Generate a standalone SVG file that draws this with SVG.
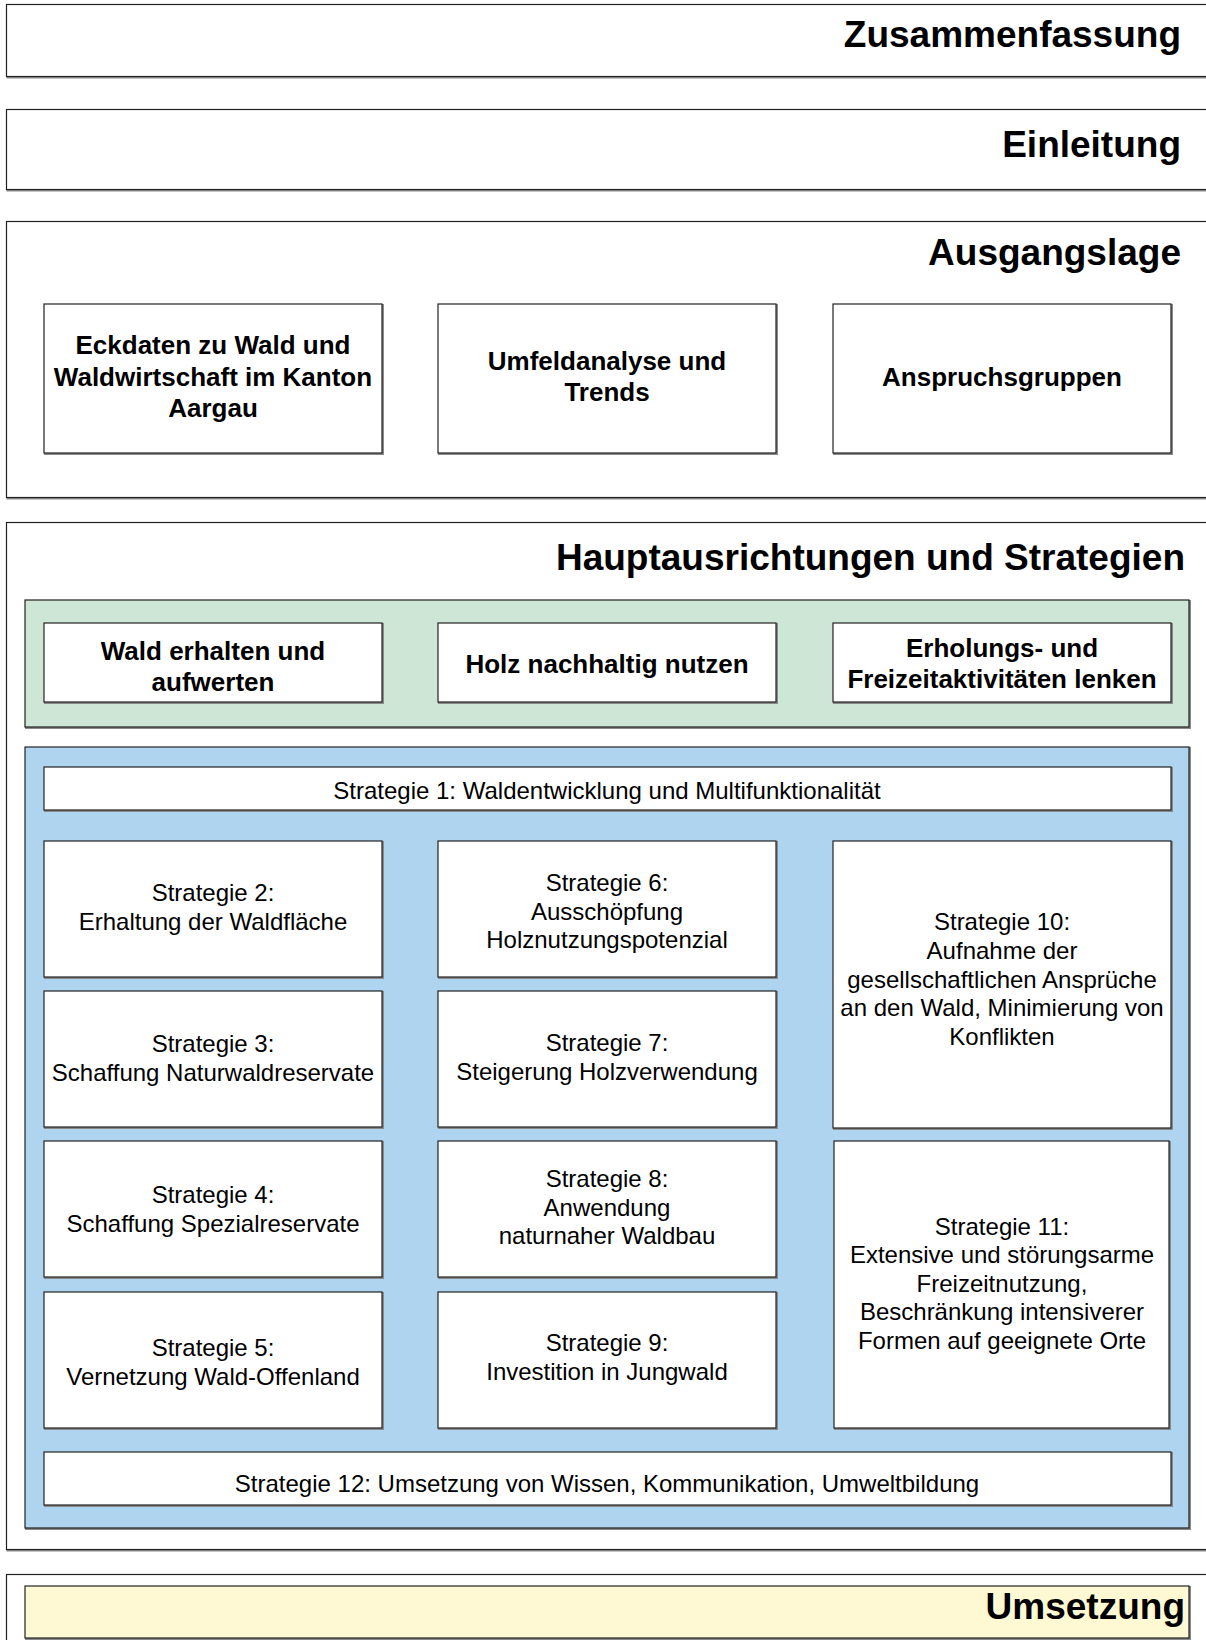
<svg xmlns="http://www.w3.org/2000/svg" width="1206" height="1640" viewBox="0 0 1206 1640">
<defs>
<style>
.sh{fill:none;stroke:#8a8a8a;stroke-width:2}
.bx{stroke:#222;stroke-width:1.2}
.w{fill:#fff}
.g{fill:#cde6d5}
.b{fill:#aed4f0}
.y{fill:#fff9d3}
.title{font-family:"Liberation Sans",Arial,sans-serif;font-weight:bold;font-size:37px;fill:#000;text-anchor:end}
.bt{font-family:"Liberation Sans",Arial,sans-serif;font-weight:bold;font-size:26px;fill:#000;text-anchor:middle}
.t{font-family:"Liberation Sans",Arial,sans-serif;font-size:24px;fill:#000;text-anchor:middle}
</style>
</defs>
<rect width="1206" height="1640" fill="#fff"/>

<g id="zusammenfassung">
<rect class="sh" x="7.5" y="5.5" width="1210" height="72"/>
<rect class="bx w" x="6.5" y="4.5" width="1210" height="72"/>
<text class="title" x="1181" y="47">Zusammenfassung</text>
</g>

<g id="einleitung">
<rect class="sh" x="7.5" y="110.5" width="1210" height="80"/>
<rect class="bx w" x="6.5" y="109.5" width="1210" height="80"/>
<text class="title" x="1181" y="157">Einleitung</text>
</g>

<g id="ausgangslage">
<rect class="sh" x="7.5" y="222.5" width="1210" height="276"/>
<rect class="bx w" x="6.5" y="221.5" width="1210" height="276"/>
<text class="title" x="1181" y="265">Ausgangslage</text>
</g>

<g id="eckdaten">
<rect class="sh" x="45" y="305" width="338" height="149"/>
<rect class="bx w" x="44" y="304" width="338" height="149"/>
<text class="bt" x="213" y="354">Eckdaten zu Wald und</text>
<text class="bt" x="213" y="386">Waldwirtschaft im Kanton</text>
<text class="bt" x="213" y="417">Aargau</text>
</g>
<g id="umfeldanalyse">
<rect class="sh" x="439" y="305" width="338" height="149"/>
<rect class="bx w" x="438" y="304" width="338" height="149"/>
<text class="bt" x="607" y="370">Umfeldanalyse und</text>
<text class="bt" x="607" y="401">Trends</text>
</g>
<g id="anspruchsgruppen">
<rect class="sh" x="834" y="305" width="338" height="149"/>
<rect class="bx w" x="833" y="304" width="338" height="149"/>
<text class="bt" x="1002" y="386">Anspruchsgruppen</text>
</g>

<g id="hauptausrichtungen">
<rect class="sh" x="7.5" y="523.5" width="1210" height="1027"/>
<rect class="bx w" x="6.5" y="522.5" width="1210" height="1027"/>
<text class="title" x="1185" y="570">Hauptausrichtungen und Strategien</text>
</g>

<g id="hauptausrichtungen-gruen">
<rect class="sh" x="26" y="601" width="1164" height="127"/>
<rect class="bx g" x="25" y="600" width="1164" height="127"/>
</g>
<g id="wald-erhalten">
<rect class="sh" x="45" y="624" width="338" height="79"/>
<rect class="bx w" x="44" y="623" width="338" height="79"/>
<text class="bt" x="213" y="660">Wald erhalten und</text>
<text class="bt" x="213" y="691">aufwerten</text>
</g>
<g id="holz-nutzen">
<rect class="sh" x="439" y="624" width="338" height="79"/>
<rect class="bx w" x="438" y="623" width="338" height="79"/>
<text class="bt" x="607" y="673">Holz nachhaltig nutzen</text>
</g>
<g id="erholung">
<rect class="sh" x="834" y="624" width="338" height="79"/>
<rect class="bx w" x="833" y="623" width="338" height="79"/>
<text class="bt" x="1002" y="657">Erholungs- und</text>
<text class="bt" x="1002" y="688">Freizeitaktivitäten lenken</text>
</g>

<g id="strategien-blau">
<rect class="sh" x="26" y="748" width="1164" height="781"/>
<rect class="bx b" x="25" y="747" width="1164" height="781"/>
</g>

<g id="strategie1">
<rect class="sh" x="45" y="768" width="1127" height="43"/>
<rect class="bx w" x="44" y="767" width="1127" height="43"/>
<text class="t" x="607" y="799">Strategie 1: Waldentwicklung und Multifunktionalität</text>
</g>

<g id="strategie2">
<rect class="sh" x="45" y="842" width="338" height="136"/>
<rect class="bx w" x="44" y="841" width="338" height="136"/>
<text class="t" x="213" y="901">Strategie 2:</text>
<text class="t" x="213" y="930">Erhaltung der Waldfläche</text>
</g>
<g id="strategie3">
<rect class="sh" x="45" y="992" width="338" height="136"/>
<rect class="bx w" x="44" y="991" width="338" height="136"/>
<text class="t" x="213" y="1052">Strategie 3:</text>
<text class="t" x="213" y="1081">Schaffung Naturwaldreservate</text>
</g>
<g id="strategie4">
<rect class="sh" x="45" y="1142" width="338" height="136"/>
<rect class="bx w" x="44" y="1141" width="338" height="136"/>
<text class="t" x="213" y="1203">Strategie 4:</text>
<text class="t" x="213" y="1232">Schaffung Spezialreservate</text>
</g>
<g id="strategie5">
<rect class="sh" x="45" y="1293" width="338" height="136"/>
<rect class="bx w" x="44" y="1292" width="338" height="136"/>
<text class="t" x="213" y="1356">Strategie 5:</text>
<text class="t" x="213" y="1385">Vernetzung Wald-Offenland</text>
</g>

<g id="strategie6">
<rect class="sh" x="439" y="842" width="338" height="136"/>
<rect class="bx w" x="438" y="841" width="338" height="136"/>
<text class="t" x="607" y="891">Strategie 6:</text>
<text class="t" x="607" y="920">Ausschöpfung</text>
<text class="t" x="607" y="948">Holznutzungspotenzial</text>
</g>
<g id="strategie7">
<rect class="sh" x="439" y="992" width="338" height="136"/>
<rect class="bx w" x="438" y="991" width="338" height="136"/>
<text class="t" x="607" y="1051">Strategie 7:</text>
<text class="t" x="607" y="1080">Steigerung Holzverwendung</text>
</g>
<g id="strategie8">
<rect class="sh" x="439" y="1142" width="338" height="136"/>
<rect class="bx w" x="438" y="1141" width="338" height="136"/>
<text class="t" x="607" y="1187">Strategie 8:</text>
<text class="t" x="607" y="1216">Anwendung</text>
<text class="t" x="607" y="1244">naturnaher Waldbau</text>
</g>
<g id="strategie9">
<rect class="sh" x="439" y="1293" width="338" height="136"/>
<rect class="bx w" x="438" y="1292" width="338" height="136"/>
<text class="t" x="607" y="1351">Strategie 9:</text>
<text class="t" x="607" y="1380">Investition in Jungwald</text>
</g>

<g id="strategie10">
<rect class="sh" x="834" y="842" width="338" height="287"/>
<rect class="bx w" x="833" y="841" width="338" height="287"/>
<text class="t" x="1002" y="930">Strategie 10:</text>
<text class="t" x="1002" y="959">Aufnahme der</text>
<text class="t" x="1002" y="988">gesellschaftlichen Ansprüche</text>
<text class="t" x="1002" y="1016">an den Wald, Minimierung von</text>
<text class="t" x="1002" y="1045">Konflikten</text>
</g>
<g id="strategie11">
<rect class="sh" x="835" y="1142" width="335" height="287"/>
<rect class="bx w" x="834" y="1141" width="335" height="287"/>
<text class="t" x="1002" y="1235">Strategie 11:</text>
<text class="t" x="1002" y="1263">Extensive und störungsarme</text>
<text class="t" x="1002" y="1292">Freizeitnutzung,</text>
<text class="t" x="1002" y="1320">Beschränkung intensiverer</text>
<text class="t" x="1002" y="1349">Formen auf geeignete Orte</text>
</g>

<g id="strategie12">
<rect class="sh" x="45" y="1453" width="1127" height="53"/>
<rect class="bx w" x="44" y="1452" width="1127" height="53"/>
<text class="t" x="607" y="1492">Strategie 12: Umsetzung von Wissen, Kommunikation, Umweltbildung</text>
</g>

<g id="umsetzung">
<rect class="sh" x="7.5" y="1575.5" width="1210" height="80"/>
<rect class="bx w" x="6.5" y="1574.5" width="1210" height="80"/>
<rect class="sh" x="26" y="1587" width="1164" height="52"/>
<rect class="bx y" x="25" y="1586" width="1164" height="52"/>
<text class="title" x="1185" y="1619">Umsetzung</text>
</g>

<g id="connectors"/>
</svg>
